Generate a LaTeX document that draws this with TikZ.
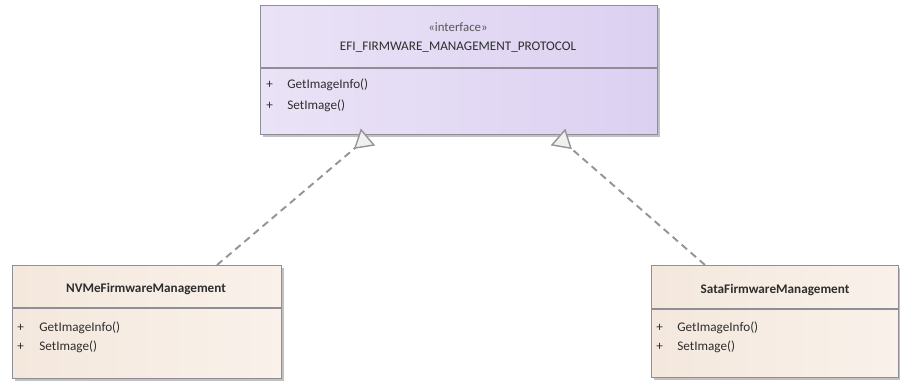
\documentclass[tikz,border=0pt]{standalone}
\usepackage{fontspec}
\setmainfont{Carlito}
\usetikzlibrary{arrows.meta,shadows}
\definecolor{edge}{HTML}{8E8E96}
\definecolor{lilacL}{HTML}{EAE3F7}
\definecolor{lilacR}{HTML}{DCD0F1}
\definecolor{peachL}{HTML}{F4E8DD}
\definecolor{peachR}{HTML}{F9F1EA}
\definecolor{txt}{HTML}{2E2E2E}
\definecolor{dashgray}{HTML}{959595}
\tikzset{
  umlbox/.style={draw=edge,line width=0.6pt,anchor=north west,inner sep=0pt,
    drop shadow={shadow xshift=1.3pt,shadow yshift=-1.3pt,fill=black!40,opacity=0.6}},
  iface/.style={umlbox,left color=lilacL,right color=lilacR},
  cls/.style={umlbox,left color=peachL,right color=peachR},
  divider/.style={draw=edge,line width=0.6pt},
  stereo/.style={font=\fontsize{7.3}{8.5}\selectfont,text=txt!80},
  cname/.style={font=\fontsize{7.5}{9}\selectfont,text=txt},
  cbold/.style={font=\bfseries\fontsize{7.5}{9}\selectfont,text=txt},
  op/.style={font=\fontsize{7.5}{9}\selectfont,text=txt,anchor=west,inner sep=0pt},
  realize/.style={draw=dashgray,line width=1.1pt,dash pattern=on 4pt off 2.8pt,
    -{Triangle[reversed,length=10.5pt,width=12.5pt,fill=white!94!black,line width=0.8pt]}}
}
\begin{document}
\begin{tikzpicture}[x=0.02cm,y=-0.02cm]
\path[use as bounding box,fill=white] (0,0) rectangle (900,381);
% interface
\node[iface,minimum width=7.94cm,minimum height=2.58cm] (proto) at (260,5) {};
\draw[divider] (260,68) -- (657,68);
\node[stereo] (protoSt) at (458,27) {«interface»};
\node[cname] (protoNm) at (458,47) {EFI\_FIRMWARE\_MANAGEMENT\_PROTOCOL};
\node[op] (protoP1) at (266,85) {+}; \node[op] (protoO1) at (287,85) {GetImageInfo()};
\node[op] (protoP2) at (266,106) {+}; \node[op] (protoO2) at (287,106) {SetImage()};
% NVMe class
\node[cls,minimum width=5.38cm,minimum height=2.26cm] (nvme) at (12,265) {};
\draw[divider] (12,308) -- (281,308);
\node[cbold] (nvmeNm) at (146,289) {NVMeFirmwareManagement};
\node[op] (nvmeP1) at (17,328) {+}; \node[op] (nvmeO1) at (39,328) {GetImageInfo()};
\node[op] (nvmeP2) at (17,347) {+}; \node[op] (nvmeO2) at (39,347) {SetImage()};
% Sata class
\node[cls,minimum width=4.94cm,minimum height=2.24cm] (sata) at (651,265) {};
\draw[divider] (651,309) -- (898,309);
\node[cbold] (sataNm) at (775,290) {SataFirmwareManagement};
\node[op] (sataP1) at (656,328) {+}; \node[op] (sataO1) at (677,328) {GetImageInfo()};
\node[op] (sataP2) at (656,347) {+}; \node[op] (sataO2) at (677,347) {SetImage()};
% realizations
\coordinate (nvmeTop) at (217,265); \coordinate (protoL) at (368,137);
\coordinate (sataTop) at (705,265); \coordinate (protoR) at (558,137);
\draw[realize] (nvmeTop) -- (protoL);
\draw[realize] (sataTop) -- (protoR);
\end{tikzpicture}
\end{document}
